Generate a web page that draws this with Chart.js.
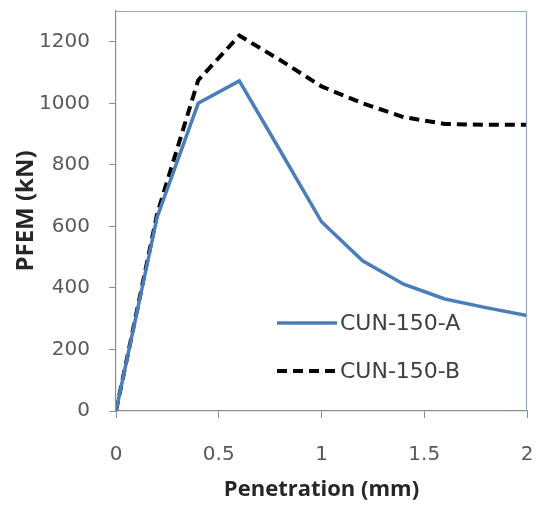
<!DOCTYPE html>
<html>
<head>
<meta charset="utf-8">
<script src="https://cdn.jsdelivr.net/npm/chart.js@4"></script>
<style>
  html, body { margin: 0; background: #fff; }
  #wrap { width: 539px; height: 506px; }
</style>
</head>
<body>
<div id="wrap"><canvas id="chart"></canvas></div>
<script>
// data
const seriesNames = ['CUN-150-A', 'CUN-150-B'];
const penetrationA = [0, 0.2, 0.4, 0.6, 0.8, 1.0, 1.2, 1.4, 1.6, 1.8, 2.0];
const loadA = [0, 630, 1000, 1073, 845, 615, 488, 412, 364, 336, 310];
const penetrationB = [0, 0.2, 0.4, 0.6, 0.8, 1.0, 1.2, 1.4, 1.6, 1.8, 2.0];
const loadB = [0, 640, 1075, 1220, 1140, 1055, 1000, 955, 933, 930, 930];
const xTickValues = [0, 0.5, 1, 1.5, 2];
const yTickValues = [0, 200, 400, 600, 800, 1000, 1200];

const toPoints = (xs, ys) => xs.map((x, i) => ({ x: x, y: ys[i] }));

// frame on top/right of plot area + legend inside the plot
const frameAndLegend = {
    id: 'frameAndLegend',
    afterDatasetsDraw(chart) {
        const { ctx, chartArea: a } = chart;
        ctx.save();
        ctx.strokeStyle = '#94a9bf';
        ctx.lineWidth = 1.2;
        ctx.beginPath();
        ctx.moveTo(a.left, a.top + 0.5);
        ctx.lineTo(a.right - 0.5, a.top + 0.5);
        ctx.lineTo(a.right - 0.5, a.bottom);
        ctx.stroke();

        ctx.font = '22px "DejaVu Sans"';
        ctx.fillStyle = '#404040';
        ctx.textBaseline = 'middle';
        chart.data.datasets.forEach((ds, i) => {
            const y = a.bottom - 88 + i * 48;
            const x0 = a.left + 161;
            ctx.strokeStyle = ds.borderColor;
            ctx.lineWidth = ds.borderWidth;
            ctx.setLineDash(ds.borderDash || []);
            ctx.beginPath();
            ctx.moveTo(x0, y);
            ctx.lineTo(x0 + 60, y);
            ctx.stroke();
            ctx.setLineDash([]);
            ctx.fillText(ds.label, x0 + 63, y + 1);
        });
        ctx.restore();
    }
};

new Chart(document.getElementById('chart').getContext('2d'), {
    type: 'line',
    data: {
        datasets: [
            {
                label: seriesNames[0],
                data: toPoints(penetrationA, loadA),
                borderColor: '#4a7ebb',
                borderWidth: 3.5,
                pointRadius: 0,
                tension: 0
            },
            {
                label: seriesNames[1],
                data: toPoints(penetrationB, loadB),
                borderColor: '#000000',
                borderWidth: 4,
                borderDash: [10, 6],
                pointRadius: 0,
                tension: 0
            }
        ]
    },
    options: {
        responsive: true,
        maintainAspectRatio: false,
        animation: false,
        layout: { padding: { top: 11, right: 12, left: 0, bottom: 0 } },
        plugins: {
            legend: { display: false },
            tooltip: { enabled: false }
        },
        scales: {
            x: {
                type: 'linear',
                min: 0,
                max: 2,
                afterBuildTicks: (s) => { s.ticks = xTickValues.map(v => ({ value: v })); },
                afterFit: (s) => { s.height = 95; s.paddingLeft = 0; s.paddingRight = 0; },
                grid: { drawOnChartArea: false, tickLength: 7, color: '#8c8c8c' },
                border: { color: '#8c8c8c', width: 1.2 },
                ticks: {
                    padding: 25,
                    color: '#595959',
                    font: { family: 'DejaVu Sans', size: 20 },
                    maxRotation: 0,
                    callback: (v) => String(v)
                },
                title: {
                    display: true,
                    text: 'Penetration (mm)',
                    color: '#262626',
                    font: { family: 'Open Sans', size: 22, weight: 'bold' },
                    padding: { top: 4, bottom: 3 }
                }
            },
            y: {
                min: 0,
                max: 1300,
                afterBuildTicks: (s) => { s.ticks = yTickValues.map(v => ({ value: v })); },
                afterFit: (s) => { s.width = 116; s.paddingTop = 0; s.paddingBottom = 0; },
                grid: { drawOnChartArea: false, tickLength: 7, color: '#8c8c8c' },
                border: { color: '#8c8c8c', width: 1.2 },
                ticks: {
                    padding: 19,
                    color: '#595959',
                    font: { family: 'DejaVu Sans', size: 20 },
                    callback: (v) => String(v)
                },
                title: {
                    display: true,
                    text: 'PFEM (kN)',
                    color: '#262626',
                    font: { family: 'Open Sans', size: 24, weight: 'bold' },
                    padding: { top: 12, bottom: 0 }
                }
            }
        }
    },
    plugins: [frameAndLegend]
});
</script>
</body>
</html>
